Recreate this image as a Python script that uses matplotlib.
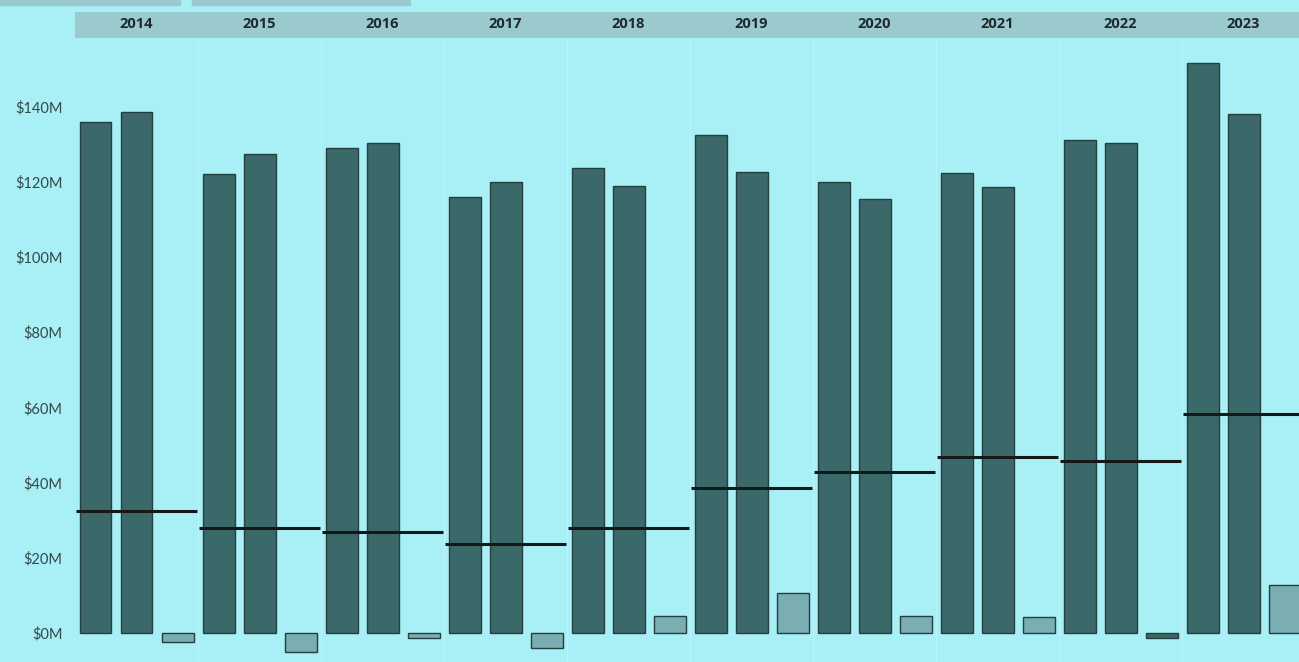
import numpy as np
import matplotlib
matplotlib.use('Agg')
import matplotlib.pyplot as plt
from matplotlib.patches import Rectangle

# DATA (values in $M)
years = ['2014', '2015', '2016', '2017', '2018', '2019', '2020', '2021', '2022', '2023']
series_a = [136.0, 122.0, 129.0, 116.0, 123.7, 132.4, 120.0, 122.3, 131.0, 151.5]
series_b = [138.5, 127.4, 130.3, 120.0, 119.0, 122.6, 115.4, 118.6, 130.3, 138.0]
diff = [-2.5, -5.0, -1.2, -4.0, 4.5, 10.6, 4.6, 4.3, -1.3, 12.8]
ref_line = [32.5, 28.0, 27.0, 23.7, 28.0, 38.6, 42.8, 46.8, 45.7, 58.2]
yticks = [0, 20, 40, 60, 80, 100, 120, 140]

# COLOURS
BG = '#a8eff6'
DARK = '#3b6969'
DARK_EDGE = '#243f40'
LIGHT = '#7aaeb2'
HEADER = '#9ac9ce'
TEXT = '#34484a'

plt.rcParams['font.family'] = ['Lato', 'DejaVu Sans']

W, H = 1299, 662
fig = plt.figure(figsize=(W / 100, H / 100), dpi=100, facecolor=BG)

# main plot area
ax = fig.add_axes([75 / W, 0, 1 - 75 / W, (662 - 40) / H])
ax.set_facecolor(BG)
n = len(years)
x0 = np.arange(n)
bw = 0.26
ax.bar(x0 + 1 / 6, series_a, width=bw, color=DARK, edgecolor=DARK_EDGE, linewidth=1)
ax.bar(x0 + 1 / 2, series_b, width=bw, color=DARK, edgecolor=DARK_EDGE, linewidth=1)
small_cols = [DARK if i == 8 else LIGHT for i in range(n)]
ax.bar(x0 + 5 / 6, diff, width=bw, color=small_cols, edgecolor=DARK_EDGE, linewidth=1)
ax.hlines(ref_line, x0 + 0.01, x0 + 0.99, color='#141818', linewidth=2.2)

# faint panel separators
for i in range(1, n):
    ax.axvline(i, color='#b9f4f9', linewidth=1, zorder=0)

ax.set_xlim(0, 9.95)
ax.set_ylim(-7.7, 157.7)
ax.set_xticks([])
ax.set_yticks(yticks)
ax.set_yticklabels(['$%dM' % v for v in yticks], fontsize=10.5, color=TEXT)
ax.tick_params(axis='y', length=0, pad=9)
for s in ax.spines.values():
    s.set_visible(False)

# year header band
hx = fig.add_axes([75 / W, (662 - 38) / H, 1 - 75 / W, 26 / H])
hx.set_facecolor(HEADER)
hx.set_xlim(0, 9.95)
hx.set_ylim(0, 1)
hx.set_xticks([])
hx.set_yticks([])
for s in hx.spines.values():
    s.set_visible(False)
for i, yr in enumerate(years):
    hx.text(i + 0.5, 0.55, yr, ha='center', va='center', fontsize=10.5,
            fontweight='bold', color='#1e2a2b', family=['Open Sans', 'DejaVu Sans'])

# cut-off boxes at the very top
fig.patches.append(Rectangle((0, 1 - 5 / H), 180 / W, 5 / H, transform=fig.transFigure,
                             color=HEADER, zorder=0))
fig.patches.append(Rectangle((192 / W, 1 - 5 / H), 218 / W, 5 / H, transform=fig.transFigure,
                             color=HEADER, zorder=0))

fig.savefig('out.png', dpi=100, facecolor=BG)
